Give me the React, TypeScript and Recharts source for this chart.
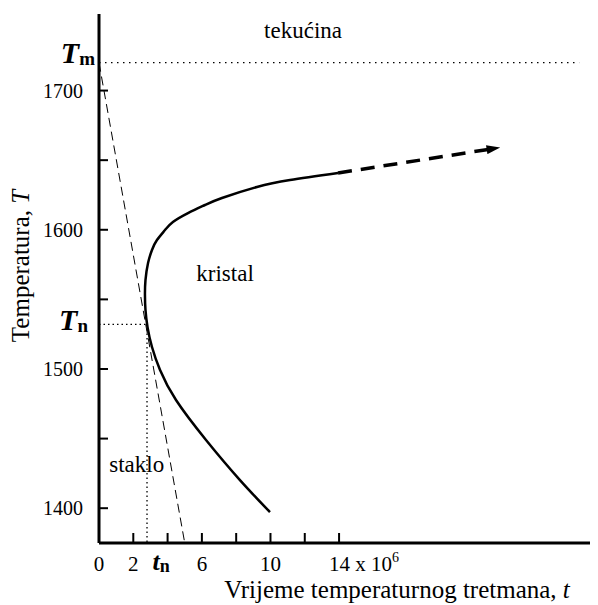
import React from "react";
import { LineChart, Line, XAxis, YAxis, ReferenceLine, ReferenceDot, Label } from "recharts";

// C-krivulja (vrijeme x10^6, temperatura) od donjeg kraja prema gore
const curveTime = [9.97, 8.22, 6.24, 4.49, 3.56, 3.09, 2.83, 2.71, 2.68, 2.71, 2.86, 3.09, 3.38, 3.85, 4.31, 5.19, 6.18, 7.17, 9.21, 11.14, 13.94];
const curveTemp = [1397.2, 1420.2, 1449, 1477.7, 1499.3, 1515.8, 1530.1, 1542.4, 1553.1, 1563.9, 1576.1, 1585.5, 1592.6, 1599.8, 1605.6, 1612, 1617.8, 1622.8, 1630.7, 1635.7, 1640.8];

// isprekidani nastavak sa strelicom
const growthTime = [13.94, 23.2];
const growthTemp = [1640.8, 1658.7];

// tanka isprekidana linija (kritično hlađenje)
const coolTime = [0, 5.0];
const coolTemp = [1720, 1375];

const meltTemp = 1720;
const noseTemp = 1532;
const noseTime = 2.8;
const meltLineEnd = 28;

const xTicks = [0, 2, 4, 6, 8, 10, 12, 14];
const xTickLabels: Record<number, string> = { 0: "0", 2: "2", 6: "6", 10: "10" };
const yTicks = [1400, 1450, 1500, 1550, 1600, 1650, 1700];
const yTickLabels: Record<number, string> = { 1400: "1400", 1500: "1500", 1600: "1600", 1700: "1700" };

const regionNames = ["tekućina", "kristal", "staklo"];
const regionTime = [11.9, 7.35, 2.2];
const regionTemp = [1737.5, 1563, 1426];

const curveData = curveTime.map((t, i) => ({ t, T: curveTemp[i] }));
const growthData = growthTime.map((t, i) => ({ t, T: growthTemp[i] }));
const coolData = coolTime.map((t, i) => ({ t, T: coolTemp[i] }));

const serif = { fontFamily: "'Liberation Serif', 'Times New Roman', 'DejaVu Serif', serif" };

const XTick = (props: any) => {
  const { x, y, payload } = props;
  const v = payload.value;
  return (
    <g>
      {v !== 0 && <line x1={x} y1={y} x2={x} y2={y - 10} stroke="#000" strokeWidth={2} />}
      {xTickLabels[v] !== undefined && (
        <text x={x} y={y + 28} textAnchor="middle" fontSize={21} style={serif} fill="#000">
          {xTickLabels[v]}
        </text>
      )}
      {v === 4 && (
        <text x={x - 15} y={y + 27} style={serif} fill="#000">
          <tspan fontSize={26} fontWeight="bold" fontStyle="italic">t</tspan>
          <tspan fontSize={18} fontWeight="bold" dy={2}>n</tspan>
        </text>
      )}
      {v === 14 && (
        <text x={x - 10} y={y + 28} fontSize={21} style={serif} fill="#000">
          14 x 10<tspan fontSize={14} dy={-9}>6</tspan>
        </text>
      )}
    </g>
  );
};

const YTick = (props: any) => {
  const { x, y, payload } = props;
  const v = payload.value;
  if (v === meltTemp || v === noseTemp) {
    const sub = v === meltTemp ? "m" : "n";
    const off = v === meltTemp ? 4 : 11;
    const base = v === meltTemp ? 0 : 6;
    return (
      <text x={x - off} y={y + base} textAnchor="end" style={serif} fill="#000">
        <tspan fontSize={30} fontWeight="bold" fontStyle="italic">T</tspan>
        <tspan fontSize={19} fontWeight="bold" dy={2}>{sub}</tspan>
      </text>
    );
  }
  return (
    <g>
      <line x1={x} y1={y} x2={x + 9} y2={y} stroke="#000" strokeWidth={2} />
      {yTickLabels[v] !== undefined && (
        <text x={x - 16} y={y + 7} textAnchor="end" fontSize={20} style={serif} fill="#000">
          {yTickLabels[v]}
        </text>
      )}
    </g>
  );
};

const YTitle = (props: any) => {
  const { viewBox } = props;
  const cx = viewBox.x + 21;
  const cy = 258;
  return (
    <text x={cx} y={cy} transform={`rotate(-90 ${cx} ${cy})`} textAnchor="middle" fontSize={25} style={serif} fill="#000">
      Temperatura, <tspan fontStyle="italic">T</tspan>
    </text>
  );
};

const XTitle = (props: any) => {
  const { viewBox } = props;
  return (
    <text x={viewBox.x + 298} y={viewBox.y + 55} textAnchor="middle" fontSize={25} style={serif} fill="#000">
      Vrijeme temperaturnog tretmana, <tspan fontStyle="italic">t</tspan>
    </text>
  );
};

const App = () => {
  return (
    <LineChart width={590} height={597} margin={{ top: 6, right: 0, bottom: 0, left: 0 }}>
      <defs>
        <marker id="arrowHead" viewBox="0 0 12 8" refX="9" refY="4" markerWidth="4" markerHeight="2.6" orient="auto" markerUnits="strokeWidth">
          <path d="M0,0 L12,4 L0,8 z" fill="#000" />
        </marker>
      </defs>
      <XAxis
        type="number"
        dataKey="t"
        domain={[0, 29.1]}
        ticks={xTicks}
        interval={0}
        tickSize={0}
        tickMargin={0}
        tickLine={false}
        axisLine={{ stroke: "#000", strokeWidth: 3 }}
        tick={<XTick />}
        height={62}
        allowDataOverflow
      >
        <Label content={<XTitle />} />
      </XAxis>
      <YAxis
        type="number"
        dataKey="T"
        domain={[1375, 1755]}
        ticks={[...yTicks, noseTemp, meltTemp]}
        interval={0}
        tickSize={0}
        tickMargin={0}
        tickLine={false}
        axisLine={{ stroke: "#000", strokeWidth: 3 }}
        tick={<YTick />}
        width={91}
        allowDataOverflow
      >
        <Label content={<YTitle />} />
      </YAxis>

      <ReferenceLine
        segment={[{ x: 0, y: meltTemp }, { x: meltLineEnd, y: meltTemp }]}
        stroke="#000"
        strokeWidth={1.3}
        strokeDasharray="1.5 4.5"
      />
      <ReferenceLine
        segment={[{ x: 0, y: noseTemp }, { x: noseTime, y: noseTemp }]}
        stroke="#000"
        strokeWidth={1.3}
        strokeDasharray="1.5 3"
      />
      <ReferenceLine
        segment={[{ x: noseTime, y: noseTemp }, { x: noseTime, y: 1375 }]}
        stroke="#000"
        strokeWidth={1.3}
        strokeDasharray="1.5 3"
      />

      <Line
        data={coolData}
        dataKey="T"
        type="linear"
        stroke="#000"
        strokeWidth={1}
        strokeDasharray="9 5"
        dot={false}
        activeDot={false}
        isAnimationActive={false}
      />
      <Line
        data={curveData}
        dataKey="T"
        type="natural"
        stroke="#000"
        strokeWidth={2.5}
        dot={false}
        activeDot={false}
        isAnimationActive={false}
      />
      <Line
        data={growthData}
        dataKey="T"
        type="linear"
        stroke="#000"
        strokeWidth={3.5}
        strokeDasharray="14 9"
        markerEnd="url(#arrowHead)"
        dot={false}
        activeDot={false}
        isAnimationActive={false}
      />

      {regionNames.map((name, i) => (
        <ReferenceDot
          key={name}
          x={regionTime[i]}
          y={regionTemp[i]}
          r={0}
          shape={(p: any) => (
            <text x={p.cx} y={p.cy} textAnchor="middle" fontSize={23} style={serif} fill="#000">
              {name}
            </text>
          )}
        />
      ))}
    </LineChart>
  );
};

export default App;
